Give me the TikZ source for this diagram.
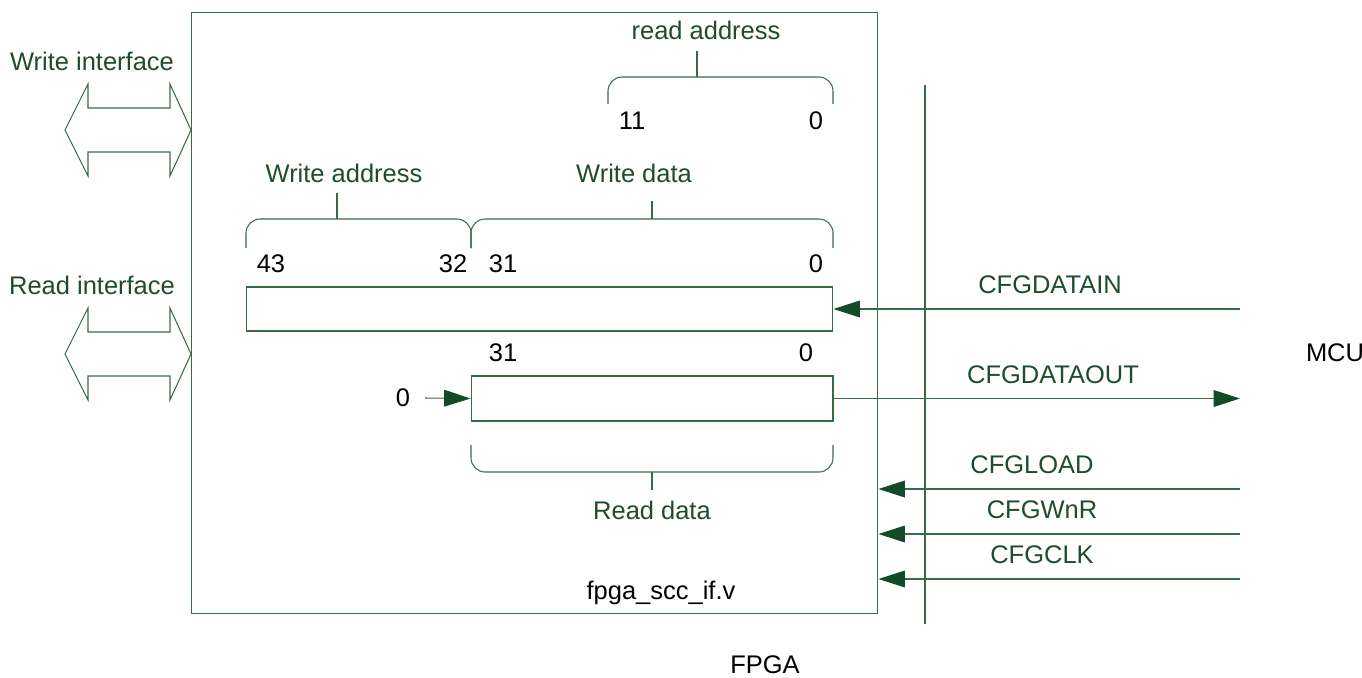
\documentclass[tikz,border=0pt]{standalone}
\usepackage{fontspec}
\setmainfont{Liberation Sans}
\usetikzlibrary{arrows.meta}
\definecolor{lineGreen}{HTML}{3A6A4A}
\definecolor{textGreen}{HTML}{1E4D2D}
\definecolor{tipGreen}{HTML}{134A28}

\begin{document}
\begin{tikzpicture}[x = 0.02cm, y = -0.02cm]
	\tikzstyle{boxStyle} = [draw = lineGreen, line width = 0.6pt, inner sep = 0pt]
	\tikzstyle{lineStyle} = [draw = lineGreen, line width = 0.6pt]
	\tikzstyle{braceStyle} = [lineStyle, rounded corners = 8pt]
	\tikzstyle{sigStyle} = [lineStyle, -{Triangle[length = 15pt, width = 9.5pt, fill = tipGreen, color = tipGreen]}]
	\tikzstyle{greenLabel} = [text = textGreen, font = \fontsize{14.5}{17}\selectfont, inner sep = 0pt]
	\tikzstyle{blackLabel} = [text = black, font = \fontsize{14.5}{17}\selectfont, inner sep = 0pt]
	\useasboundingbox (0,0) rectangle (1362,677);
	\node[boxStyle, minimum width = 13.74cm, minimum height = 12.04cm] (fpga) at (534.5,313) {};
	\node[boxStyle, minimum width = 11.74cm, minimum height = 0.88cm] (wreg) at (539.5,309) {};
	\node[boxStyle, minimum width = 7.24cm, minimum height = 0.9cm] (rreg) at (652,398.5) {};
	\node[greenLabel] (wif) at (92,61) {Write interface};
	\node[greenLabel] (rif) at (92,285) {Read interface};
	\draw[lineStyle] (191,130) -- (170,84) -- (170,108) -- (88,108) -- (88,84) -- (65,130) -- (88,176) -- (88,152) -- (170,152) -- (170,176) -- cycle;
	\draw[lineStyle] (191,354) -- (170,308) -- (170,332) -- (88,332) -- (88,308) -- (65,354) -- (88,400) -- (88,376) -- (170,376) -- (170,400) -- cycle;
	\node[greenLabel] (raddr) at (706,30) {read address};
	\draw[braceStyle] (608,104) -- (608,77) -- (833,77) -- (833,104);
	\draw[lineStyle] (697,51) -- (697,77);
	\node[blackLabel] (n11) at (632,121) {11};
	\node[blackLabel] (n0a) at (816,121) {0};
	\node[greenLabel] (waddr) at (344,173) {Write address};
	\node[greenLabel] (wdata) at (634,173) {Write data};
	\draw[braceStyle] (246,248) -- (246,219) -- (471,219) -- (471,248);
	\draw[braceStyle] (471,248) -- (471,219) -- (833,219) -- (833,248);
	\draw[lineStyle] (337,193) -- (337,219);
	\draw[lineStyle] (652,201) -- (652,219);
	\node[blackLabel] (n43) at (271,264) {43};
	\node[blackLabel] (n32) at (453,264) {32};
	\node[blackLabel] (n31a) at (503,264) {31};
	\node[blackLabel] (n0b) at (816,264) {0};
	\node[blackLabel] (n31b) at (503,353) {31};
	\node[blackLabel] (n0c) at (806,353) {0};
	\node[blackLabel] (zero) at (403,398) {0};
	\draw[sigStyle] (425,398) -- (rreg.west);
	\draw[braceStyle] (471,445) -- (471,472) -- (833,472) -- (833,445);
	\draw[lineStyle] (652,472) -- (652,490);
	\node[greenLabel] (rdata) at (652,510) {Read data};
	\node[blackLabel] (fname) at (661,593) {fpga\_scc\_if.v};
	\node[blackLabel] (fpgaLabel) at (765,665) {FPGA};
	\node[blackLabel] (mcu) at (1335,353) {MCU};
	\draw[lineStyle] (925,85) -- (925,624);
	\node[greenLabel] (cin) at (1050,285) {CFGDATAIN};
	\node[greenLabel] (cout) at (1053,375) {CFGDATAOUT};
	\node[greenLabel] (cload) at (1032,465) {CFGLOAD};
	\node[greenLabel] (cwnr) at (1042,510) {CFGWnR};
	\node[greenLabel] (cclk) at (1042,555) {CFGCLK};
	\coordinate (inEnd) at (1240,309);
	\coordinate (outEnd) at (1240,398.5);
	\coordinate (loadEnd) at (1240,489);
	\coordinate (wnrEnd) at (1240,534);
	\coordinate (clkEnd) at (1240,579);
	\draw[sigStyle] (inEnd) -- (wreg.east);
	\draw[sigStyle] (rreg.east) -- (outEnd);
	\draw[sigStyle] (loadEnd) -- (fpga.east |- loadEnd);
	\draw[sigStyle] (wnrEnd) -- (fpga.east |- wnrEnd);
	\draw[sigStyle] (clkEnd) -- (fpga.east |- clkEnd);
\end{tikzpicture}
\end{document}
